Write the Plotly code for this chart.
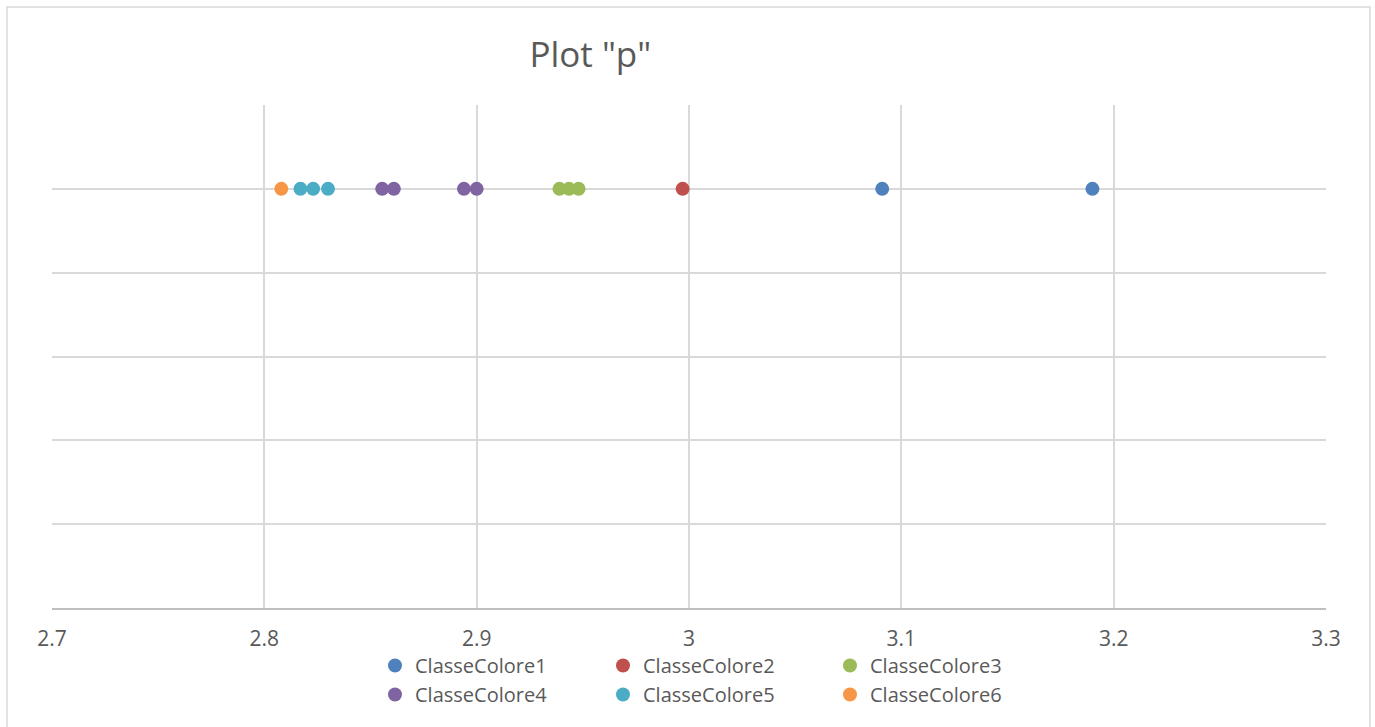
import plotly.graph_objects as go

# Values of "p" per colour class; every point sits on the level y = 1
classes = ["ClasseColore1", "ClasseColore2", "ClasseColore3",
           "ClasseColore4", "ClasseColore5", "ClasseColore6"]
p_classe1 = [3.091, 3.190]
p_classe2 = [2.997]
p_classe3 = [2.939, 2.9435, 2.948]
p_classe4 = [2.8555, 2.861, 2.894, 2.900]
p_classe5 = [2.817, 2.823, 2.830]
p_classe6 = [2.808]
level = 1.0

x_ticks = [2.7, 2.8, 2.9, 3.0, 3.1, 3.2, 3.3]
x_tick_labels = ["2.7", "2.8", "2.9", "3", "3.1", "3.2", "3.3"]

colors = ["#4F81BD", "#C0504D", "#9BBB59", "#8064A2", "#4BACC6", "#F79646"]
series = [p_classe1, p_classe2, p_classe3, p_classe4, p_classe5, p_classe6]

W, H = 1375, 727
ml, mr, mt, mb = 52, 49, 105, 119
pw, ph = W - ml - mr, H - mt - mb

# legend laid out as three columns of two entries
legend_ids = ["legend", "legend2", "legend3", "legend", "legend2", "legend3"]

fig = go.Figure()
for name, vals, col, lg in zip(classes, series, colors, legend_ids):
    fig.add_trace(go.Scatter(
        x=vals, y=[level] * len(vals), mode="markers", name=name,
        legend=lg,
        marker=dict(color=col, size=14, line=dict(width=0)),
    ))

font_family = "Open Sans, Liberation Sans, sans-serif"
grid = "#d9d9d9"
text_col = "#595959"


def px_x(px):
    return (px - ml) / pw


def px_y(py):
    return (H - mb - py) / ph


def legend_box(left_px):
    return dict(orientation="v", x=px_x(left_px), xanchor="left",
                y=px_y(646), yanchor="top", itemwidth=30,
                font=dict(size=20, color=text_col, family=font_family),
                tracegroupgap=0, bgcolor="rgba(0,0,0,0)", borderwidth=0)


fig.update_layout(
    width=W, height=H,
    margin=dict(l=ml, r=mr, t=mt, b=mb, autoexpand=False),
    paper_bgcolor="white", plot_bgcolor="white",
    font=dict(family=font_family, color=text_col, size=21),
    title=dict(text='Plot "p"', x=581 / W, xref="paper", xanchor="center",
               y=1 - 55 / H, yanchor="middle",
               font=dict(size=35, color=text_col, family=font_family)),
    xaxis=dict(range=[2.7, 3.3], tickvals=x_ticks, ticktext=x_tick_labels,
               tickfont=dict(size=21, color=text_col, family=font_family),
               showgrid=True, gridcolor=grid, gridwidth=1.5, zeroline=False,
               showline=True, linecolor="#bfbfbf", linewidth=1.5,
               ticks="", ticklabelstandoff=11, fixedrange=True),
    yaxis=dict(range=[0, 1.2], dtick=0.2, showticklabels=False,
               showgrid=True, gridcolor=grid, gridwidth=1.5, zeroline=False,
               showline=False, ticks="", fixedrange=True),
    showlegend=True,
    legend=legend_box(375),
    legend2=legend_box(603),
    legend3=legend_box(830),
    shapes=[dict(type="rect", xref="paper", yref="paper",
                 x0=px_x(7), x1=px_x(1370),
                 y0=px_y(740), y1=px_y(7),
                 line=dict(color="#d9d9d9", width=1.5), layer="below")],
)

fig.write_html("out.html")
